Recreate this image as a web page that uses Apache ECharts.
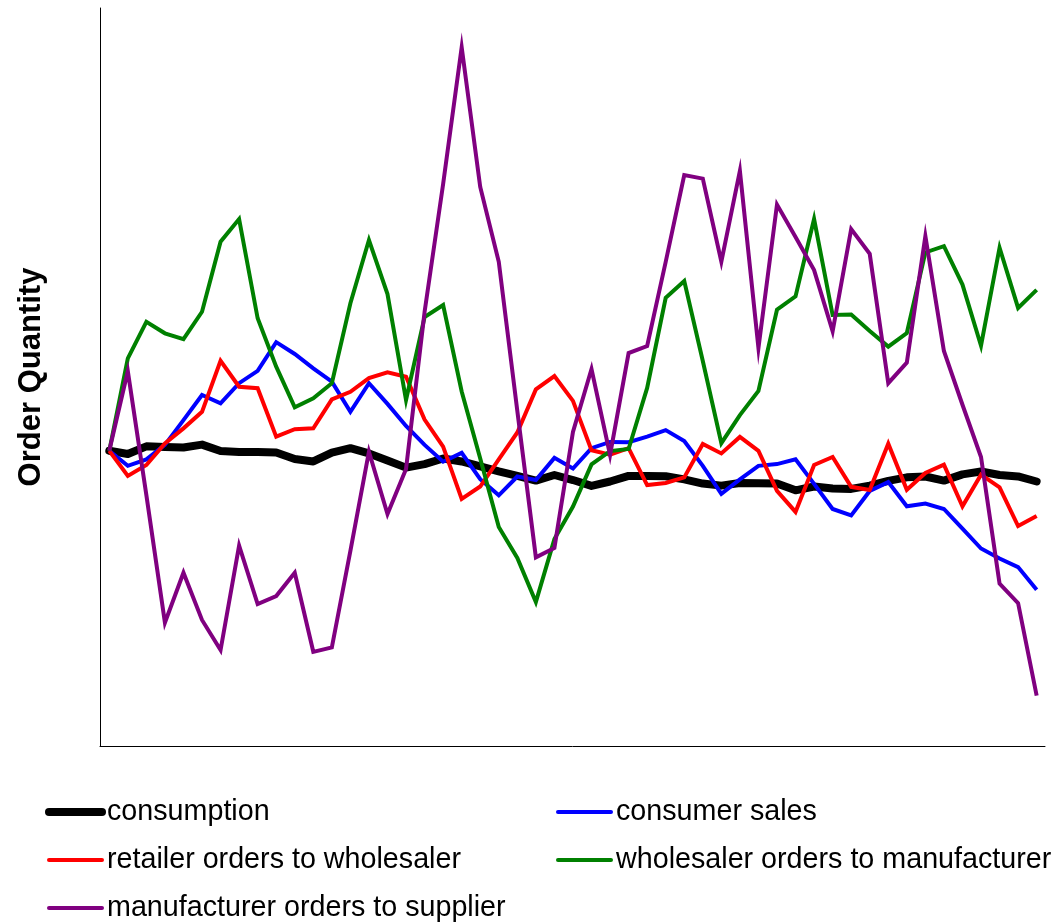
<!DOCTYPE html>
<html>
<head>
<meta charset="utf-8">
<title>Order Quantity</title>
<script src="https://cdn.jsdelivr.net/npm/echarts@6/dist/echarts.min.js"></script>
<style>
  html, body { margin: 0; padding: 0; background: #ffffff; }
  #chart { width: 1064px; height: 924px; }
</style>
</head>
<body>
<div id="chart"></div>
<script>
// Periods along the horizontal axis
const periods = [1, 2, 3, 4, 5, 6, 7, 8, 9, 10, 11, 12, 13, 14, 15, 16, 17, 18, 19, 20,
  21, 22, 23, 24, 25, 26, 27, 28, 29, 30, 31, 32, 33, 34, 35, 36, 37, 38, 39, 40,
  41, 42, 43, 44, 45, 46, 47, 48, 49, 50, 51];

// Order quantity per period for each stage of the supply chain
const consumption = [100, 98.9, 101.5, 101.3, 101.1, 102.1, 99.9, 99.6, 99.6, 99.4,
  97.2, 96.4, 99.4, 100.9, 99.1, 96.7, 94.3, 95.5, 97.4, 96.4,
  94.7, 93.0, 91.5, 89.9, 91.8, 90.1, 88.1, 89.6, 91.5, 91.5,
  91.4, 90.3, 88.9, 88.2, 89.1, 89.0, 88.9, 86.6, 87.9, 87.2,
  87.1, 88.2, 89.8, 91.0, 91.3, 89.9, 92.0, 93.0, 91.8, 91.3, 89.6];

const consumerSales = [100, 94.9, 97.1, 102.0, 110.4, 118.9, 116.1, 122.9, 127.1, 136.8,
  132.8, 127.9, 123.4, 113.2, 122.9, 115.9, 108.4, 102.0, 96.3, 99.3,
  90.4, 84.9, 91.3, 90.1, 97.6, 94.0, 100.9, 103.0, 102.9, 104.8,
  107.0, 103.3, 94.9, 85.4, 90.3, 94.9, 95.5, 97.1, 88.8, 80.3,
  78.1, 86.4, 89.4, 81.2, 82.1, 80.3, 73.6, 66.9, 63.5, 60.6, 52.9];

const retailerOrders = [100, 91.5, 95.2, 102.5, 107.6, 113.2, 130.5, 121.7, 121.2, 104.8,
  107.3, 107.6, 117.4, 120.0, 124.6, 126.6, 125.1, 110.6, 101.4, 83.7,
  87.9, 97.1, 106.2, 120.8, 125.3, 116.9, 100.2, 98.7, 100.9, 88.4,
  89.1, 91.0, 102.3, 99.1, 104.7, 100.0, 86.4, 79.3, 95.2, 97.9,
  87.8, 86.7, 102.4, 86.8, 92.5, 95.3, 81.2, 91.9, 87.6, 74.5, 77.9];

const wholesalerOrders = [100, 131.3, 143.7, 139.8, 137.8, 147.1, 170.8, 178.5, 144.9, 128.5,
  114.7, 117.8, 122.9, 150.0, 171.4, 153.1, 117.2, 145.3, 149.4, 120.1,
  97.4, 74.2, 63.7, 48.8, 70.1, 81.1, 95.4, 99.9, 100.6, 121.3,
  151.8, 157.5, 130.4, 102.6, 112.1, 120.3, 147.8, 152.3, 178.5, 146.0,
  146.2, 140.6, 135.3, 139.9, 167.2, 169.3, 156.3, 135.6, 168.8, 148.4, 154.5];

const manufacturerOrders = [100, 127.0, 85.0, 41.8, 58.7, 42.7, 32.5, 67.9, 48.1, 50.8,
  58.7, 31.9, 33.4, 66.1, 99.7, 78.6, 93.8, 147.0, 190.4, 236.7,
  189.4, 164.0, 113.5, 63.9, 67.1, 106.4, 127.7, 98.6, 133.1, 135.5,
  164.0, 193.4, 192.2, 164.1, 194.8, 134.8, 183.4, 172.4, 161.2, 140.5,
  175.1, 166.7, 122.9, 129.9, 172.7, 133.8, 115.6, 97.9, 55.0, 48.4, 17.1];

const seriesNames = [
  'consumption',
  'consumer sales',
  'retailer orders to wholesaler',
  'wholesaler orders to manufacturer',
  'manufacturer orders to supplier'
];
const seriesValues = [consumption, consumerSales, retailerOrders, wholesalerOrders, manufacturerOrders];
const seriesColors = ['#000000', '#0000ff', '#ff0000', '#008000', '#800080'];
const seriesWidths = [8, 4, 4, 4, 4];

const FONT = '"Liberation Sans", Arial, Helvetica, sans-serif';

const chart = echarts.init(document.getElementById('chart'), null, { renderer: 'canvas' });

const series = seriesNames.map((name, k) => ({
  name: name,
  type: 'line',
  data: periods.map((p, i) => [p, seriesValues[k][i]]),
  symbol: 'none',
  showSymbol: false,
  animation: false,
  color: seriesColors[k],
  lineStyle: {
    color: seriesColors[k],
    width: seriesWidths[k],
    join: k === 0 ? 'round' : 'miter',
    cap: k === 0 ? 'round' : 'butt'
  },
  emphasis: { disabled: true }
}));

function legendItem(name, k) {
  return {
    name: name,
    lineStyle: { width: seriesWidths[k], cap: 'round', color: seriesColors[k] },
    itemStyle: { opacity: 0 }
  };
}

const legendCommon = {
  orient: 'vertical',
  itemWidth: 53,
  itemHeight: 8,
  itemGap: 18,
  selectedMode: false,
  padding: 0,
  textStyle: { fontFamily: FONT, fontSize: 28.7, color: '#000000', lineHeight: 30 },
  itemStyle: { opacity: 0 }
};

chart.setOption({
  animation: false,
  backgroundColor: '#ffffff',
  grid: { left: 100, right: 19, top: 8, bottom: 178, containLabel: false },
  legend: [
    Object.assign({}, legendCommon, {
      left: 45, top: 797,
      data: [legendItem(seriesNames[0], 0), legendItem(seriesNames[2], 2), legendItem(seriesNames[4], 4)]
    }),
    Object.assign({}, legendCommon, {
      left: 556, top: 797,
      data: [legendItem(seriesNames[1], 1), legendItem(seriesNames[3], 3)]
    })
  ],
  xAxis: {
    type: 'value',
    min: 0.5,
    max: 51.45,
    axisLine: { show: true, onZero: false, lineStyle: { color: '#000000', width: 1 } },
    axisTick: { show: false },
    axisLabel: { show: false },
    splitLine: { show: false }
  },
  yAxis: {
    type: 'value',
    min: 0,
    max: 250,
    name: 'Order Quantity',
    nameLocation: 'middle',
    nameGap: 53,
    nameRotate: 90,
    nameTextStyle: { fontFamily: FONT, fontSize: 31, fontWeight: 'bold', color: '#000000' },
    axisLine: { show: true, lineStyle: { color: '#000000', width: 1 } },
    axisTick: { show: false },
    axisLabel: { show: false },
    splitLine: { show: false }
  },
  series: series
});
</script>
</body>
</html>
